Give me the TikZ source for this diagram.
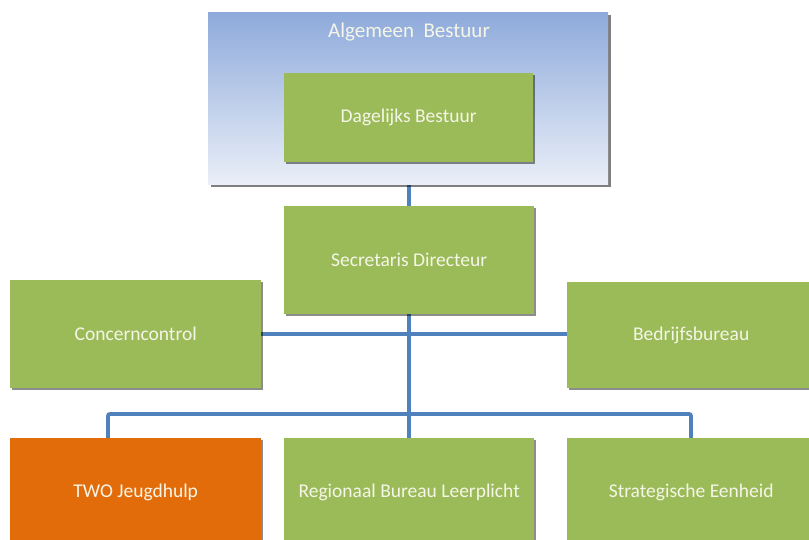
\documentclass[tikz,border=0pt]{standalone}
\usepackage{fontspec}
\setmainfont{Carlito}
\usetikzlibrary{shadows,backgrounds}
\definecolor{boxgreen}{RGB}{155,187,89}
\definecolor{boxorange}{RGB}{227,108,10}
\definecolor{linkblue}{RGB}{79,129,189}
\definecolor{txtwhite}{RGB}{245,245,232}
\definecolor{abtop}{RGB}{142,170,219}
\definecolor{abbot}{RGB}{234,239,248}
\tikzset{
  orgbox/.style={rectangle, fill=boxgreen, text=txtwhite, anchor=north west,
    font=\fontsize{19.5}{22}\selectfont, inner sep=0pt,
    drop shadow={shadow xshift=2pt, shadow yshift=-2pt, fill=black, opacity=0.45}},
  conn/.style={draw=linkblue, line width=3.8pt},
}
\begin{document}
\begin{tikzpicture}[x=1pt, y=-1pt]
\useasboundingbox (0,0) rectangle (809,539);
\clip (0,0) rectangle (809,539);
\node[rectangle, anchor=north west, minimum width=400pt, minimum height=172pt, inner sep=0pt,
  top color=abtop, bottom color=abbot,
  drop shadow={shadow xshift=2.5pt, shadow yshift=-2.5pt, fill=black, opacity=0.5}] (ab) at (208,12) {};
\node[text=txtwhite, font=\fontsize{21}{24}\selectfont, anchor=center] (abt) at (409,32) {Algemeen\ \ Bestuur};
\node[orgbox, minimum width=249pt, minimum height=89pt] (db) at (284,73) {Dagelijks Bestuur};
\node[orgbox, minimum width=250pt, minimum height=108pt] (sd) at (284,206) {Secretaris Directeur};
\node[orgbox, minimum width=251pt, minimum height=108pt] (cc) at (10,280) {Concerncontrol};
\node[orgbox, minimum width=248pt, minimum height=106pt] (bb) at (567,282) {Bedrijfsbureau};
\node[orgbox, fill=boxorange, minimum width=251pt, minimum height=108pt] (two) at (10,438) {TWO Jeugdhulp};
\node[orgbox, minimum width=250pt, minimum height=108pt] (reg) at (284,438) {Regionaal Bureau Leerplicht};
\node[orgbox, minimum width=248pt, minimum height=108pt] (se) at (567,438) {Strategische Eenheid};
\coordinate (busL) at (108,414);
\coordinate (busR) at (691,414);
\begin{scope}[on background layer]
\draw[conn] (ab.south -| reg.north) -- (reg.north);
\draw[conn] (cc.east) -- (cc.east -| bb.west);
\draw[conn, rounded corners=2pt] (busL |- two.north) |- (busR) -- (busR |- se.north);
\end{scope}
\end{tikzpicture}
\end{document}
